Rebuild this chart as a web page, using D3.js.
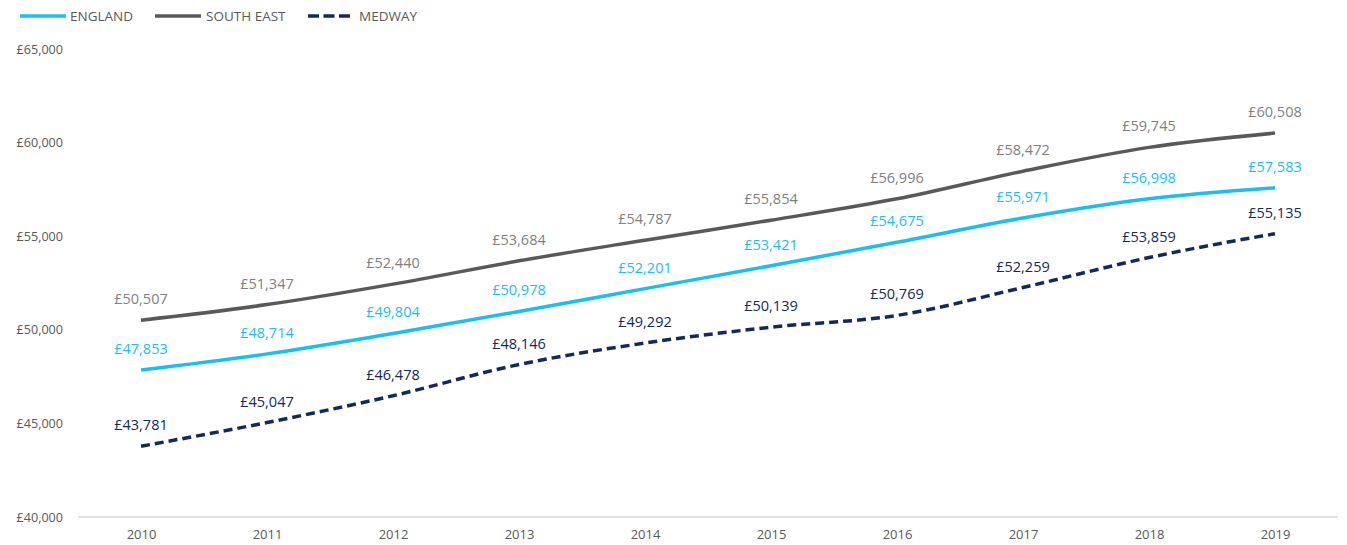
<!DOCTYPE html>
<html><head><meta charset="utf-8">
<script src="https://cdn.jsdelivr.net/npm/d3@7"></script>
<style>body{margin:0;background:#fff;}text{font-family:"Open Sans",sans-serif;}</style>
</head><body><svg id="c" width="1347" height="545"></svg>
<script>
const years = [2010,2011,2012,2013,2014,2015,2016,2017,2018,2019];
const england = [47853,48714,49804,50978,52201,53421,54675,55971,56998,57583];
const southEast = [50507,51347,52440,53684,54787,55854,56996,58472,59745,60508];
const medway = [43781,45047,46478,48146,49292,50139,50769,52259,53859,55135];
const yTicks = [40000,45000,50000,55000,60000,65000];
const seriesNames = ["ENGLAND","SOUTH EAST","MEDWAY"];
const colors = ["#1CBDF0","#595959","#102A5C"];
const labelColors = ["#1CBDF0","#7F7F7F","#102A5C"];

const svg = d3.select("#c");
const x = d3.scalePoint().domain(years).range([141,1275]);
const y = d3.scaleLinear().domain([40000,65000]).range([517,49]);

svg.append("line").attr("x1",78).attr("x2",1338).attr("y1",y(40000)).attr("y2",y(40000))
  .attr("stroke","#D9D9D9").attr("stroke-width",1.5);

const fmt = d3.format(",");
const ya = svg.append("g").attr("transform","translate(63,0)")
  .call(d3.axisLeft(y).tickValues(yTicks).tickSize(0).tickPadding(0).tickFormat(d=>"£"+fmt(d)));
ya.select(".domain").remove();
ya.selectAll("text").attr("fill","#595959").style("font-size","12.6px").style("font-family","Open Sans");
const xa = svg.append("g").attr("transform",`translate(0,${y(40000)})`)
  .call(d3.axisBottom(x).tickSize(0).tickPadding(13).tickFormat(d=>d));
xa.select(".domain").remove();
xa.selectAll("text").attr("fill","#595959").style("font-size","13px").style("font-family","Open Sans");

const all = [england, southEast, medway];
const line = d3.line().x((d,i)=>x(years[i])).y(d=>y(d)).curve(d3.curveMonotoneX);
all.forEach((vals,k)=>{
  svg.append("path").attr("d",line(vals)).attr("fill","none")
    .attr("stroke",colors[k]).attr("stroke-width",3.5)
    .attr("stroke-dasharray",k===2?"9,5":null);
  svg.append("g").selectAll("text").data(vals).join("text")
    .attr("x",(d,i)=>x(years[i])).attr("y",d=>y(d)-16)
    .attr("text-anchor","middle").attr("fill",labelColors[k])
    .style("font-size","14.5px").text(d=>"£"+fmt(d));
});

const leg = [[20,70],[155,206],[308,359]];
seriesNames.forEach((n,k)=>{
  const lx = leg[k][0];
  svg.append("line").attr("x1",lx).attr("x2",lx+(k===2?42:46)).attr("y1",16).attr("y2",16)
    .attr("stroke",colors[k]).attr("stroke-width",3.5).attr("stroke-dasharray",k===2?"11,4.5":null);
  svg.append("text").attr("x",leg[k][1]).attr("y",21).attr("fill","#595959")
    .style("font-size","13.5px").text(n);
});
</script></body></html>
